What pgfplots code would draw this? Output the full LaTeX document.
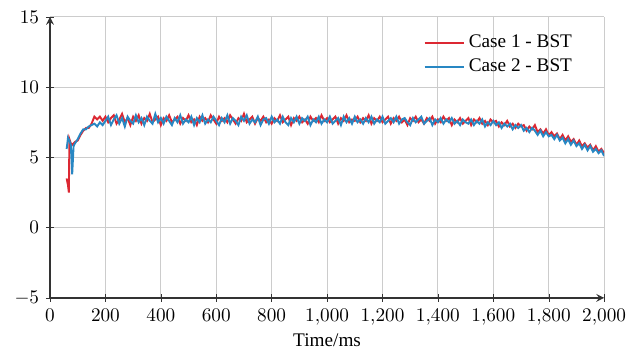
\documentclass[border=0pt]{standalone}
\usepackage{fontspec}
\setmainfont{Liberation Serif}
\usepackage{pgfplots}
\pgfplotsset{compat=1.18}
\definecolor{cred}{RGB}{220,40,50}
\definecolor{cblue}{RGB}{40,135,195}
\begin{document}
\begin{tikzpicture}
\begin{axis}[
  scale only axis,
  width=288pt, height=146pt,
  xmin=0, xmax=2000, ymin=-5, ymax=15,
  axis lines=left,
  axis line style={thick, black!80},
  xtick={0,200,...,2000},
  ytick={-5,0,5,10,15},
  grid=major,
  grid style={gray!40, line width=0.5pt},
  tick style={black!80},
  xlabel={Time/ms},
  xlabel style={yshift=2pt},
  legend style={at={(0.96,0.965)}, anchor=north east, draw=none, fill=none, row sep=0.3pt},
  legend cell align=left,
  legend image code/.code={\draw[mark repeat=2,mark phase=2] plot coordinates {(0cm,0cm) (0.36cm,0cm) (0.72cm,0cm)};},
]
\addplot[cred, line width=1pt] coordinates {
(60,3.5)(65,3.0)(68,2.5)(70,6.3)(75,6.0)(80,5.9)(90,6.1)(100,6.2)(110,6.6)(120,6.9)(130,7.1)(140,7.1)(150,7.4)(160,7.9)(170,7.7)(180,7.9)(190,7.6)
(200,7.9)(210,7.5)(220,7.8)(230,8.0)(240,7.4)(250,7.7)(260,8.1)(270,7.5)(280,7.8)(290,7.3)
(300,7.9)(310,7.6)(320,8.0)(330,7.4)(340,7.8)(350,7.6)(360,8.1)(370,7.5)(380,7.7)(390,7.9)
(400,7.3)(410,7.8)(420,7.6)(430,8.0)(440,7.5)(450,7.7)(460,7.9)(470,7.4)(480,7.8)(490,7.6)
(500,8.0)(510,7.5)(520,7.7)(530,7.3)(540,7.9)(550,7.6)(560,7.8)(570,7.5)(580,8.0)(590,7.7)
(600,7.4)(610,7.9)(620,7.6)(630,7.8)(640,7.5)(650,8.0)(660,7.7)(670,7.4)(680,7.8)(690,7.6)
(700,8.1)(710,7.5)(720,7.7)(730,7.9)(740,7.4)(750,7.8)(760,7.6)(770,7.9)(780,7.5)(790,7.7)
(800,7.4)(810,7.8)(820,7.6)(830,8.0)(840,7.5)(850,7.7)(860,7.9)(870,7.3)(880,7.8)(890,7.6)
(900,7.9)(910,7.5)(920,7.7)(930,7.4)(940,7.9)(950,7.6)(960,7.8)(970,7.5)(980,8.0)(990,7.6)
(1000,7.8)(1010,7.5)(1020,7.7)(1030,7.9)(1040,7.4)(1050,7.8)(1060,7.6)(1070,8.0)(1080,7.5)(1090,7.7)
(1100,7.6)(1110,7.9)(1120,7.5)(1130,7.8)(1140,7.6)(1150,8.0)(1160,7.4)(1170,7.8)(1180,7.6)(1190,7.9)
(1200,7.5)(1210,7.7)(1220,7.9)(1230,7.4)(1240,7.8)(1250,7.6)(1260,7.9)(1270,7.5)(1280,7.7)(1290,7.3)
(1300,7.8)(1310,7.6)(1320,7.9)(1330,7.5)(1340,7.7)(1350,7.4)(1360,7.8)(1370,7.6)(1380,7.9)(1390,7.4)
(1400,7.7)(1410,7.5)(1420,7.9)(1430,7.6)(1440,7.8)(1450,7.3)(1460,7.7)(1470,7.5)(1480,7.8)(1490,7.4)
(1500,7.6)(1510,7.8)(1520,7.3)(1530,7.7)(1540,7.5)(1550,7.8)(1560,7.4)(1570,7.6)(1580,7.3)(1590,7.7)
(1600,7.5)(1610,7.6)(1620,7.2)(1630,7.5)(1640,7.3)(1650,7.6)(1660,7.2)(1670,7.4)(1680,7.1)(1690,7.4)
(1700,7.2)(1710,7.3)(1720,6.9)(1730,7.2)(1740,7.0)(1750,7.3)(1760,6.8)(1770,7.0)(1780,6.7)(1790,7.0)
(1800,6.6)(1810,6.8)(1820,6.5)(1830,6.7)(1840,6.3)(1850,6.6)(1860,6.2)(1870,6.5)(1880,6.1)(1890,6.3)
(1900,5.9)(1910,6.2)(1920,5.8)(1930,6.0)(1940,5.7)(1950,5.9)(1960,5.5)(1970,5.8)(1980,5.4)(1990,5.6)(2000,5.3)
};
\addlegendentry{Case 1 - BST}
\addplot[cblue, line width=1pt] coordinates {
(60,5.6)(65,6.4)(70,6.2)(75,5.9)(80,3.8)(85,5.8)(90,6.0)(100,6.3)(110,6.7)(120,7.0)(130,7.0)(140,7.2)(150,7.3)(160,7.4)(170,7.2)(180,7.5)(190,7.3)
(200,7.6)(210,7.9)(220,7.3)(230,7.7)(240,8.0)(250,7.4)(260,7.8)(270,7.2)(280,7.9)(290,7.6)
(300,7.4)(310,8.0)(320,7.5)(330,7.8)(340,7.3)(350,7.9)(360,7.6)(370,7.4)(380,8.1)(390,7.5)
(400,7.8)(410,7.4)(420,7.9)(430,7.6)(440,7.3)(450,7.8)(460,7.5)(470,8.0)(480,7.4)(490,7.7)
(500,7.5)(510,7.9)(520,7.3)(530,7.8)(540,7.5)(550,8.0)(560,7.4)(570,7.7)(580,7.5)(590,7.9)
(600,7.6)(610,7.3)(620,7.8)(630,7.5)(640,8.0)(650,7.4)(660,7.8)(670,7.6)(680,7.3)(690,7.9)
(700,7.6)(710,8.0)(720,7.4)(730,7.7)(740,7.5)(750,7.9)(760,7.3)(770,7.7)(780,7.8)(790,7.4)
(800,7.9)(810,7.5)(820,7.7)(830,7.4)(840,7.9)(850,7.5)(860,7.3)(870,7.8)(880,7.5)(890,7.9)
(900,7.4)(910,7.8)(920,7.6)(930,7.9)(940,7.3)(950,7.7)(960,7.5)(970,7.9)(980,7.4)(990,7.7)
(1000,7.5)(1010,7.9)(1020,7.4)(1030,7.6)(1040,7.8)(1050,7.3)(1060,7.9)(1070,7.5)(1080,7.8)(1090,7.4)
(1100,7.9)(1110,7.5)(1120,7.7)(1130,7.4)(1140,7.8)(1150,7.5)(1160,7.9)(1170,7.4)(1180,7.7)(1190,7.5)
(1200,7.9)(1210,7.4)(1220,7.6)(1230,7.8)(1240,7.5)(1250,7.9)(1260,7.4)(1270,7.7)(1280,7.8)(1290,7.5)
(1300,7.3)(1310,7.8)(1320,7.5)(1330,7.7)(1340,7.9)(1350,7.4)(1360,7.6)(1370,7.8)(1380,7.3)(1390,7.7)
(1400,7.5)(1410,7.8)(1420,7.4)(1430,7.7)(1440,7.5)(1450,7.8)(1460,7.4)(1470,7.6)(1480,7.3)(1490,7.7)
(1500,7.5)(1510,7.4)(1520,7.7)(1530,7.3)(1540,7.6)(1550,7.4)(1560,7.7)(1570,7.2)(1580,7.5)(1590,7.3)
(1600,7.6)(1610,7.3)(1620,7.5)(1630,7.1)(1640,7.4)(1650,7.2)(1660,7.4)(1670,7.0)(1680,7.3)(1690,7.1)
(1700,7.3)(1710,6.9)(1720,7.1)(1730,6.8)(1740,7.1)(1750,6.9)(1760,6.6)(1770,6.9)(1780,6.5)(1790,6.8)
(1800,6.5)(1810,6.6)(1820,6.3)(1830,6.6)(1840,6.2)(1850,6.4)(1860,6.0)(1870,6.3)(1880,5.9)(1890,6.2)
(1900,5.8)(1910,6.0)(1920,5.6)(1930,5.9)(1940,5.5)(1950,5.8)(1960,5.4)(1970,5.6)(1980,5.3)(1990,5.5)(2000,5.1)
};
\addlegendentry{Case 2 - BST}
\end{axis}
\pgfresetboundingbox
\path (current axis.south west) ++(-26pt,-31.2pt) rectangle ++(329pt,186pt);
\end{tikzpicture}
\end{document}
